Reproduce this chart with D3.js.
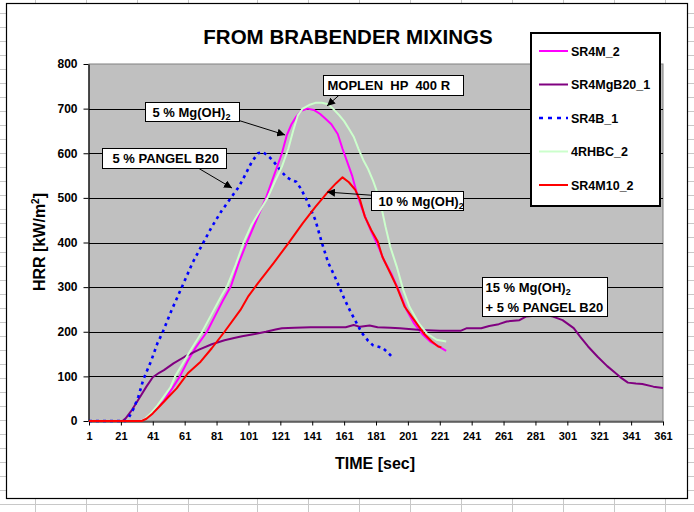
<!DOCTYPE html>
<html><head><meta charset="utf-8">
<script src="https://cdn.jsdelivr.net/npm/d3@7"></script>
<style>
html,body{margin:0;padding:0;background:#fff;}
svg{display:block;font-family:"Liberation Sans",Arial,sans-serif;}
text{white-space:pre;}
</style></head><body>
<svg id="c" width="694" height="512"></svg>
<script>
// ---- data ----
const title = "FROM BRABENDER MIXINGS";
const xTickLabels = [1,21,41,61,81,101,121,141,161,181,201,221,241,261,281,301,321,341,361];
const yTickLabels = [0,100,200,300,400,500,600,700,800];
const seriesNames = ["SR4M_2","SR4MgB20_1","SR4B_1","4RHBC_2","SR4M10_2"];
const seriesColors = ["#FF00FF","#800080","#0000FF","#CCFFCC","#FF0000"];

const SR4M_2 = [[1,0],[33,0],[36,5],[40,15],[44,30],[48,45],[53,72],[58,100],[63,135],[68,165],[75,200],[80,235],[85,270],[90,302],[95,355],[100,400],[106,450],[112,500],[117,550],[122,600],[125,640],[128,665],[131,682],[134,695],[138,700],[142,697],[146,688],[150,675],[153,665],[157,643],[160,610],[163,580],[166,550],[169,510],[172,478],[175,450],[178,425],[182,395],[186,360],[191,327],[196,286],[200,250],[205,218],[210,195],[215,178],[220,168],[225,157]];
const SR4MgB20_1 = [[1,0],[22,0],[24,6],[28,25],[33,54],[37,77],[41,98],[45,108],[48,114],[54,129],[61,144],[70,160],[78,172],[86,181],[92,186],[97,190],[105,195],[112,200],[118,205],[122,208],[130,209],[140,210],[150,210],[162,210],[167,215],[171,211],[177,214],[182,210],[190,209],[196,208],[209,204],[221,202],[234,202],[238,208],[247,208],[252,213],[258,217],[263,223],[271,226],[275,234],[281,236],[286,238],[292,234],[298,226],[305,208],[309,189],[314,167],[320,144],[326,123],[331,108],[335,96],[339,86],[344,84],[348,83],[355,77],[361,74]];
const SR4B_1 = [[1,0],[24,0],[26,8],[29,28],[32,55],[35,92],[40,135],[44,175],[47,197],[53,250],[59,298],[66,355],[72,395],[78,435],[84,470],[90,500],[95,525],[98,545],[103,580],[107,600],[110,603],[113,595],[116,585],[121,562],[125,546],[128,540],[131,536],[134,520],[137,499],[140,475],[143,450],[147,400],[151,355],[155,325],[158,300],[161,275],[165,245],[168,225],[172,198],[176,180],[179,170],[185,164],[188,155],[192,140]];
const RHBC_2 = [[1,0],[33,0],[36,5],[40,18],[44,35],[48,55],[52,75],[55,100],[60,130],[65,160],[72,200],[78,240],[84,280],[88,305],[93,350],[98,400],[103,440],[108,470],[113,500],[118,540],[122,570],[126,610],[129,650],[132,685],[135,700],[139,708],[143,713],[147,713],[151,710],[154,700],[158,685],[161,672],[164,655],[167,637],[170,610],[173,585],[176,565],[179,540],[182,510],[184,485],[187,435],[190,390],[194,346],[198,295],[202,256],[208,218],[213,196],[219,182],[225,178]];
const SR4M10_2 = [[1,0],[34,0],[37,5],[41,17],[45,32],[49,47],[56,73],[63,107],[71,133],[78,163],[86,200],[96,249],[101,280],[107,309],[117,355],[126,398],[135,443],[143,480],[151,514],[156,533],[160,546],[164,535],[168,518],[171,495],[174,458],[178,428],[182,403],[185,368],[190,331],[194,301],[199,256],[205,226],[211,196],[216,178],[220,167],[222,165]];
const seriesData = [SR4M_2, SR4MgB20_1, SR4B_1, RHBC_2, SR4M10_2];

// ---- drawing ----
const svg = d3.select("#c");
const W = 694, H = 512;

// spreadsheet background grid
const colLines = [35,86,137,188,257,308,359,410,461,512,563,614,665];
const rowLines = d3.range(-1, 36).map(k => 13 + k*14.03);
const bg = svg.append("g").attr("stroke","#c8c8c8").attr("stroke-width",1);
colLines.forEach(cx => bg.append("line").attr("x1",cx+0.5).attr("x2",cx+0.5).attr("y1",0).attr("y2",H));
rowLines.forEach(ry => bg.append("line").attr("x1",0).attr("x2",W).attr("y1",Math.round(ry)+0.5).attr("y2",Math.round(ry)+0.5));

// chart area
svg.append("rect").attr("x",6.5).attr("y",3.5).attr("width",681).attr("height",495)
  .attr("fill","#fff").attr("stroke","#000").attr("stroke-width",1.2);

const x = d3.scaleLinear().domain([1,361]).range([89,663]);
const y = d3.scaleLinear().domain([0,800]).range([421,64]);

// plot area
svg.append("rect").attr("x",x(1)).attr("y",y(800)).attr("width",x(361)-x(1)).attr("height",y(0)-y(800))
  .attr("fill","#C0C0C0").attr("stroke","#808080").attr("stroke-width",1);

// gridlines
svg.append("g").selectAll("line").data(yTickLabels.filter(v=>v>0 && v<800)).join("line")
  .attr("x1",x(1)).attr("x2",x(361)).attr("y1",d=>Math.round(y(d))+0.5).attr("y2",d=>Math.round(y(d))+0.5)
  .attr("stroke","#000").attr("stroke-width",1);

// axes
const yAxis = svg.append("g").attr("transform",`translate(${x(1)-0.5},0)`)
  .call(d3.axisLeft(y).tickValues(yTickLabels).tickSize(5).tickPadding(6).tickSizeOuter(0));
yAxis.selectAll("text").attr("font-size",12).attr("font-weight","bold").attr("fill","#000")
  .attr("font-family","'Liberation Sans',Arial,sans-serif");
yAxis.select(".domain").attr("stroke","#000").attr("stroke-width",1.2);
yAxis.selectAll(".tick line").attr("stroke","#000");

const xAxis = svg.append("g").attr("transform",`translate(0,${y(0)+0.5})`)
  .call(d3.axisBottom(x).tickValues(xTickLabels).tickFormat(d3.format("d")).tickSize(4).tickPadding(7).tickSizeOuter(0));
xAxis.selectAll("text").attr("font-size",11).attr("font-weight","bold").attr("fill","#000")
  .attr("font-family","'Liberation Sans',Arial,sans-serif");
xAxis.select(".domain").attr("stroke","#000").attr("stroke-width",1.2);
xAxis.selectAll(".tick line").attr("stroke","#000");

// series
const line = d3.line().x(d=>x(d[0])).y(d=>y(d[1]));
const plotG = svg.append("g");
seriesData.forEach((data,i) => {
  const p = plotG.append("path").datum(data).attr("d",line).attr("fill","none")
    .attr("stroke",seriesColors[i]).attr("stroke-width", i===2 ? 2.6 : 2).attr("stroke-linejoin","round");
  if (i===2) p.attr("stroke-dasharray","3,4");
});

// title
svg.append("text").attr("x",348).attr("y",44).attr("text-anchor","middle")
  .attr("font-size",20.5).attr("font-weight","bold").text(title);

// axis titles
svg.append("text").attr("x",375).attr("y",469).attr("text-anchor","middle")
  .attr("font-size",16).attr("font-weight","bold").text("TIME [sec]");
const yt = svg.append("text").attr("transform","translate(45,242) rotate(-90)").attr("text-anchor","middle")
  .attr("font-size",16).attr("font-weight","bold");
yt.append("tspan").text("HRR [kW/m");
yt.append("tspan").attr("font-size",10).attr("dy",-6).text("2");
yt.append("tspan").attr("dy",6).text("]");

// annotations
const ann = svg.append("g");
function box(t, v, w, h, lines, tx){
  const bx = Math.round(x(t))+0.5, by = Math.round(y(v))+0.5;
  ann.append("rect").attr("x",bx).attr("y",by).attr("width",w).attr("height",h)
    .attr("fill","#fff").attr("stroke","#000").attr("stroke-width",1);
  lines.forEach((ln,k)=>{
    const te = ann.append("text").attr("x",bx+(tx||6)).attr("y",by+14.5+k*19.5)
      .attr("font-size",13).attr("font-weight","bold");
    ln.forEach(seg=>{
      if (seg.sub) { te.append("tspan").attr("font-size",9).attr("dy",3).text(seg.t); te.append("tspan").attr("dy",-3).text(""); }
      else te.append("tspan").text(seg.t);
    });
  });
}
svg.append("defs").append("marker").attr("id","ah").attr("viewBox","0 0 10 10").attr("refX",10).attr("refY",5)
  .attr("markerWidth",8).attr("markerHeight",8).attr("markerUnits","userSpaceOnUse").attr("orient","auto")
  .append("path").attr("d","M0,0 L10,5 L0,10 z").attr("fill","#000");
function arrow(t1,v1,t2,v2){
  ann.append("line").attr("x1",x(t1)).attr("y1",y(v1)).attr("x2",x(t2)).attr("y2",y(v2))
    .attr("stroke","#000").attr("stroke-width",1).attr("marker-end","url(#ah)");
}
arrow(157.8,730,150.3,706);
box(147.8,775,140,20,[[{t:"MOPLEN  HP  400 R"}]],4);
arrow(94.5,674,124,641);
box(36.1,715,94,19,[[{t:"5 % Mg(OH)"},{t:"2",sub:true}]],7);
arrow(69.4,567,90.7,522);
box(9.2,612,124,20,[[{t:"5 % PANGEL B20"}]],10);
arrow(177.9,506,150.3,513);
box(177.9,515,92,19,[[{t:"10 % Mg(OH)"},{t:"2",sub:true}]],7);
box(247.5,323,125,39,[[{t:"15 % Mg(OH)"},{t:"2",sub:true}],[{t:"+ 5 % PANGEL B20"}]],3);

// legend
const lg = svg.append("g");
lg.append("rect").attr("x",531).attr("y",33).attr("width",129).attr("height",173)
  .attr("fill","#fff").attr("stroke","#000").attr("stroke-width",2);
const ly = d3.scalePoint().domain(seriesNames).range([51,185]);
seriesNames.forEach((n,i)=>{
  const l = lg.append("line").attr("x1",539).attr("x2",568).attr("y1",ly(n)).attr("y2",ly(n))
    .attr("stroke",seriesColors[i]).attr("stroke-width",2);
  if (i===2) l.attr("stroke-dasharray","4,5").attr("stroke-width",2.6);
  lg.append("text").attr("x",571).attr("y",ly(n)+4.5).attr("font-size",12.5).attr("font-weight","bold").text(n);
});
</script>
</body></html>
